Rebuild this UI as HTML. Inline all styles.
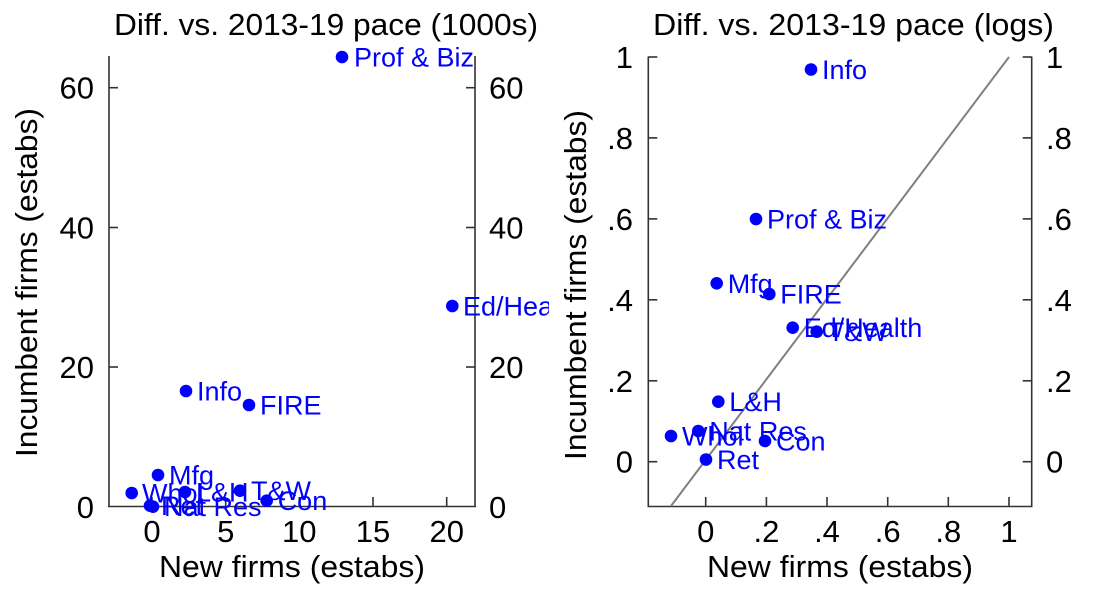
<!DOCTYPE html>
<html>
<head>
<meta charset="utf-8">
<style>
  html, body { margin:0; padding:0; background:#fff; }
  svg { display:block; }
  text { font-family: "Liberation Sans", Arial, sans-serif; }
  .tk { font-size:31px; fill:#000; }
  .ti { font-size:31px; fill:#000; }
  .lb { font-size:27px; fill:#0000ff; }
  .ax { stroke:#333; stroke-width:1.6; fill:none; }
  .dot { fill:#0000ff; }
</style>
</head>
<body>
<svg width="1100" height="594" viewBox="0 0 1100 594" xmlns="http://www.w3.org/2000/svg">
  <defs>
    <clipPath id="clipL"><rect x="0" y="0" width="549" height="594"/></clipPath>
  </defs>
  <rect width="1100" height="594" fill="#fff"/>

  <!-- ================= LEFT CHART ================= -->
  <text class="ti" x="114" y="35" textLength="424" lengthAdjust="spacingAndGlyphs">Diff. vs. 2013-19 pace (1000s)</text>

  <!-- axes -->
  <line class="ax" x1="109" y1="56" x2="109" y2="507"/>
  <line class="ax" x1="475" y1="56" x2="475" y2="507"/>
  <line class="ax" x1="108" y1="506.5" x2="476" y2="506.5"/>

  <!-- y ticks left (inward) -->
  <line class="ax" x1="109" y1="87.7" x2="118" y2="87.7"/>
  <line class="ax" x1="109" y1="227.5" x2="118" y2="227.5"/>
  <line class="ax" x1="109" y1="367" x2="118" y2="367"/>
  <!-- y ticks right (inward) -->
  <line class="ax" x1="466" y1="87.7" x2="475" y2="87.7"/>
  <line class="ax" x1="466" y1="227.5" x2="475" y2="227.5"/>
  <line class="ax" x1="466" y1="367" x2="475" y2="367"/>
  <!-- x ticks -->
  <line class="ax" x1="152" y1="497" x2="152" y2="506"/>
  <line class="ax" x1="225.7" y1="497" x2="225.7" y2="506"/>
  <line class="ax" x1="299.3" y1="497" x2="299.3" y2="506"/>
  <line class="ax" x1="373" y1="497" x2="373" y2="506"/>
  <line class="ax" x1="446.7" y1="497" x2="446.7" y2="506"/>

  <!-- y tick labels left -->
  <text class="tk" x="94" y="98.7" text-anchor="end">60</text>
  <text class="tk" x="94" y="238.5" text-anchor="end">40</text>
  <text class="tk" x="94" y="378" text-anchor="end">20</text>
  <text class="tk" x="94" y="517.8" text-anchor="end">0</text>
  <!-- y tick labels right -->
  <text class="tk" x="489" y="98.7">60</text>
  <text class="tk" x="489" y="238.5">40</text>
  <text class="tk" x="489" y="378">20</text>
  <text class="tk" x="489" y="517.8">0</text>
  <!-- x tick labels -->
  <text class="tk" x="152" y="542" text-anchor="middle">0</text>
  <text class="tk" x="225.7" y="542" text-anchor="middle">5</text>
  <text class="tk" x="299.3" y="542" text-anchor="middle">10</text>
  <text class="tk" x="373" y="542" text-anchor="middle">15</text>
  <text class="tk" x="446.7" y="542" text-anchor="middle">20</text>

  <!-- axis titles -->
  <text class="ti" x="159" y="577" textLength="266" lengthAdjust="spacingAndGlyphs">New firms (estabs)</text>
  <text class="ti" transform="translate(37,457) rotate(-90)" x="0" y="0" textLength="349" lengthAdjust="spacingAndGlyphs">Incumbent firms (estabs)</text>

  <!-- points -->
  <g clip-path="url(#clipL)">
    <circle class="dot" cx="342" cy="57" r="6.3"/>
    <text class="lb" x="354" y="66.5">Prof &amp; Biz</text>
    <circle class="dot" cx="452.3" cy="306" r="6.3"/>
    <text class="lb" x="463" y="315.5">Ed/Health</text>
    <circle class="dot" cx="186" cy="391" r="6.3"/>
    <text class="lb" x="197" y="400.5">Info</text>
    <circle class="dot" cx="249" cy="405" r="6.3"/>
    <text class="lb" x="260" y="414.5">FIRE</text>
    <circle class="dot" cx="158" cy="475" r="6.3"/>
    <text class="lb" x="169" y="484.5">Mfg</text>
    <circle class="dot" cx="131.7" cy="493" r="6.3"/>
    <text class="lb" x="142" y="502.5">Whol</text>
    <circle class="dot" cx="185" cy="492" r="6.3"/>
    <text class="lb" x="196" y="501.5">L&amp;H</text>
    <circle class="dot" cx="240" cy="490.7" r="6.3"/>
    <text class="lb" x="251" y="500.2">T&amp;W</text>
    <circle class="dot" cx="266.7" cy="500.7" r="6.3"/>
    <text class="lb" x="277.7" y="510.2">Con</text>
    <circle class="dot" cx="150" cy="505.7" r="6.3"/>
    <text class="lb" x="161" y="515.2">Ret</text>
    <circle class="dot" cx="153" cy="506.7" r="6.3"/>
    <text class="lb" x="164" y="516.2">Nat Res</text>
  </g>

  <!-- ================= RIGHT CHART ================= -->
  <text class="ti" x="653" y="35" textLength="401" lengthAdjust="spacingAndGlyphs">Diff. vs. 2013-19 pace (logs)</text>

  <!-- axes -->
  <line class="ax" x1="648.3" y1="56.5" x2="648.3" y2="507"/>
  <line class="ax" x1="1031.7" y1="56.5" x2="1031.7" y2="507"/>
  <line class="ax" x1="647.5" y1="506.5" x2="1032.5" y2="506.5"/>

  <!-- y ticks -->
  <line class="ax" x1="648.3" y1="57" x2="657.3" y2="57"/>
  <line class="ax" x1="648.3" y1="137.9" x2="657.3" y2="137.9"/>
  <line class="ax" x1="648.3" y1="218.9" x2="657.3" y2="218.9"/>
  <line class="ax" x1="648.3" y1="299.8" x2="657.3" y2="299.8"/>
  <line class="ax" x1="648.3" y1="380.8" x2="657.3" y2="380.8"/>
  <line class="ax" x1="648.3" y1="461.7" x2="657.3" y2="461.7"/>
  <line class="ax" x1="1022.7" y1="57" x2="1031.7" y2="57"/>
  <line class="ax" x1="1022.7" y1="137.9" x2="1031.7" y2="137.9"/>
  <line class="ax" x1="1022.7" y1="218.9" x2="1031.7" y2="218.9"/>
  <line class="ax" x1="1022.7" y1="299.8" x2="1031.7" y2="299.8"/>
  <line class="ax" x1="1022.7" y1="380.8" x2="1031.7" y2="380.8"/>
  <line class="ax" x1="1022.7" y1="461.7" x2="1031.7" y2="461.7"/>
  <!-- x ticks -->
  <line class="ax" x1="705.7" y1="497" x2="705.7" y2="506"/>
  <line class="ax" x1="766.4" y1="497" x2="766.4" y2="506"/>
  <line class="ax" x1="827" y1="497" x2="827" y2="506"/>
  <line class="ax" x1="887.7" y1="497" x2="887.7" y2="506"/>
  <line class="ax" x1="948.3" y1="497" x2="948.3" y2="506"/>
  <line class="ax" x1="1009" y1="497" x2="1009" y2="506"/>

  <!-- y tick labels left -->
  <text class="tk" x="633" y="68" text-anchor="end">1</text>
  <text class="tk" x="633" y="148.9" text-anchor="end">.8</text>
  <text class="tk" x="633" y="229.9" text-anchor="end">.6</text>
  <text class="tk" x="633" y="310.8" text-anchor="end">.4</text>
  <text class="tk" x="633" y="391.8" text-anchor="end">.2</text>
  <text class="tk" x="633" y="472.7" text-anchor="end">0</text>
  <!-- y tick labels right -->
  <text class="tk" x="1046" y="68">1</text>
  <text class="tk" x="1046" y="148.9">.8</text>
  <text class="tk" x="1046" y="229.9">.6</text>
  <text class="tk" x="1046" y="310.8">.4</text>
  <text class="tk" x="1046" y="391.8">.2</text>
  <text class="tk" x="1046" y="472.7">0</text>
  <!-- x tick labels -->
  <text class="tk" x="705.7" y="542" text-anchor="middle">0</text>
  <text class="tk" x="766.4" y="542" text-anchor="middle">.2</text>
  <text class="tk" x="827" y="542" text-anchor="middle">.4</text>
  <text class="tk" x="887.7" y="542" text-anchor="middle">.6</text>
  <text class="tk" x="948.3" y="542" text-anchor="middle">.8</text>
  <text class="tk" x="1009" y="542" text-anchor="middle">1</text>

  <!-- axis titles -->
  <text class="ti" x="707" y="577" textLength="266" lengthAdjust="spacingAndGlyphs">New firms (estabs)</text>
  <text class="ti" transform="translate(586,460) rotate(-90)" x="0" y="0" textLength="350" lengthAdjust="spacingAndGlyphs">Incumbent firms (estabs)</text>

  <!-- 45-degree line -->
  <line x1="671" y1="506" x2="1009" y2="57" stroke="#808080" stroke-width="2"/>

  <!-- points -->
  <circle class="dot" cx="811" cy="69.5" r="6.3"/>
  <text class="lb" x="822" y="79">Info</text>
  <circle class="dot" cx="756" cy="219" r="6.3"/>
  <text class="lb" x="767" y="228.5">Prof &amp; Biz</text>
  <circle class="dot" cx="716.7" cy="283.3" r="6.3"/>
  <text class="lb" x="727.7" y="292.8">Mfg</text>
  <circle class="dot" cx="769.3" cy="294" r="6.3"/>
  <text class="lb" x="780.3" y="303.5">FIRE</text>
  <circle class="dot" cx="792.7" cy="327.7" r="6.3"/>
  <text class="lb" x="803.7" y="337.2">Ed/Health</text>
  <circle class="dot" cx="816.7" cy="331.7" r="6.3"/>
  <text class="lb" x="827.7" y="341.2">T&amp;W</text>
  <circle class="dot" cx="718.3" cy="401.7" r="6.3"/>
  <text class="lb" x="729.3" y="411.2">L&amp;H</text>
  <circle class="dot" cx="698.3" cy="431" r="6.3"/>
  <text class="lb" x="709.3" y="440.5">Nat Res</text>
  <circle class="dot" cx="671" cy="436" r="6.3"/>
  <text class="lb" x="682" y="445.5">Whol</text>
  <circle class="dot" cx="765" cy="441" r="6.3"/>
  <text class="lb" x="776" y="450.5">Con</text>
  <circle class="dot" cx="706" cy="459.5" r="6.3"/>
  <text class="lb" x="717" y="469">Ret</text>
</svg>
</body>
</html>
